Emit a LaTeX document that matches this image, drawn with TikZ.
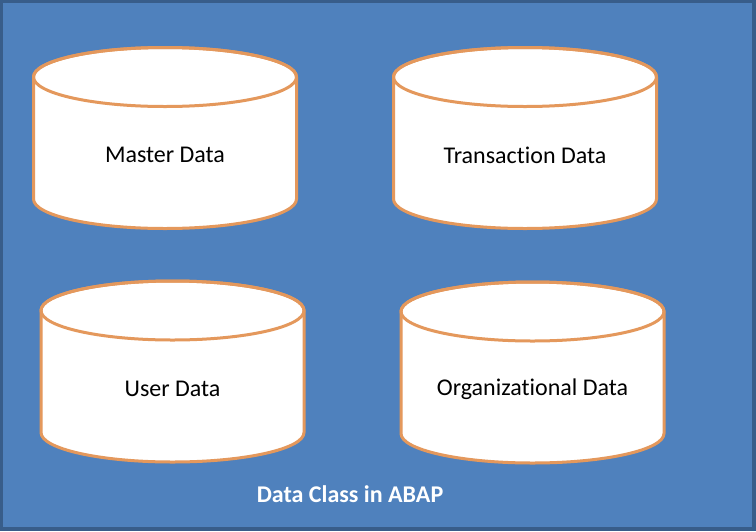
\documentclass[tikz,border=0pt]{standalone}
\usepackage{fontspec}
\setmainfont{Carlito}[Ligatures=NoCommon]
\usepackage{xcolor}

\definecolor{bgblue}{RGB}{79,129,189}
\definecolor{edgeblue}{RGB}{56,93,138}
\definecolor{canorange}{RGB}{228,152,92}

\begin{document}
\begin{tikzpicture}[
    x=1pt, y=-1pt,
    every node/.style={font=\fontsize{24}{28}\selectfont},
    canline/.style={draw=canorange, line width=3pt, line join=round},
    can/.pic={
        \path[canline, fill=white] (-131.5,-61) -- (-131.5,61)
            arc[start angle=180, end angle=360, x radius=131.5pt, y radius=29.5pt]
            -- (131.5,-61)
            arc[start angle=0, end angle=180, x radius=131.5pt, y radius=29.5pt] -- cycle;
        \draw[canline] (0,-61) ellipse[x radius=131.5pt, y radius=29.5pt];
        \node[text=black] (-lbl) at (0,17) {#1};
    },
    title/.style={text=white, font=\fontsize{24}{28}\selectfont\bfseries}
]
\fill[edgeblue] (0,0) rectangle (756,531);
\fill[bgblue] (3,3) rectangle (752,527);
\useasboundingbox (0,0) rectangle (756,531);

\pic (master) at (165,138) {can=Master Data};
\pic (trans) at (525,138) {can=Transaction Data};
\pic (user) at (172.5,371.5) {can=User Data};
\pic (org) at (532.5,372.5) {can=Organizational Data};

\node[title] (cls) at (350,494) {Data Class in ABAP};
\end{tikzpicture}
\end{document}
